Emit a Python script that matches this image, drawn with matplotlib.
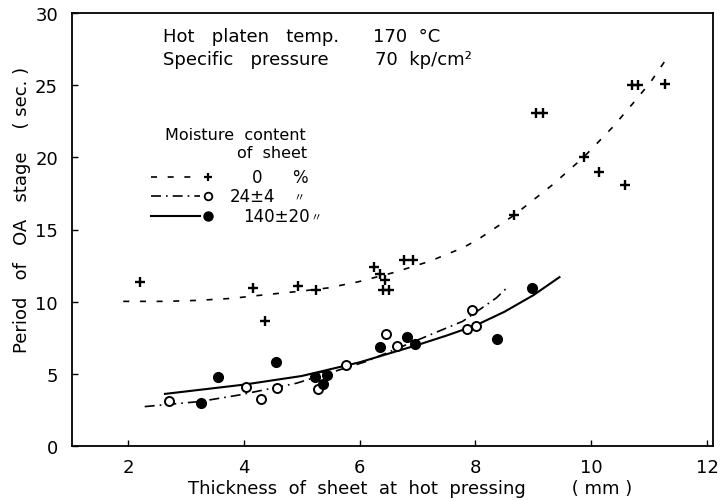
import matplotlib
matplotlib.use("Agg")
import matplotlib.pyplot as plt

plt.rcParams['font.family'] = ['DejaVu Sans', 'Noto Sans CJK JP']

# measured points, 0 % moisture
plus_x = [2.21, 4.16, 4.37, 4.94, 5.24, 6.25, 6.36, 6.43, 6.40, 6.50, 6.76, 6.93,
          8.66, 9.05, 9.16, 9.87, 10.13, 10.58, 10.71, 10.81, 11.28]
plus_y = [11.34, 10.95, 8.63, 11.11, 10.81, 12.38, 11.92, 11.48, 10.83, 10.78, 12.87, 12.87,
          15.97, 23.1, 23.1, 20.02, 19.0, 18.06, 25.02, 25.02, 25.07]

# measured points, 24 +- 4 % moisture
open_x = [2.71, 4.03, 4.29, 4.58, 5.29, 5.34, 5.76, 6.45, 6.65, 7.86, 7.94, 8.01]
open_y = [3.14, 4.12, 3.24, 4.0, 3.95, 4.86, 5.63, 7.76, 6.9, 8.1, 9.4, 8.29]

# measured points, 140 +- 20 % moisture
filled_x = [3.27, 3.55, 4.55, 5.23, 5.43, 5.36, 6.36, 6.82, 6.95, 8.37, 8.98]
filled_y = [2.96, 4.81, 5.85, 4.81, 4.93, 4.31, 6.83, 7.52, 7.1, 7.41, 10.95]

# hand-drawn trend curves
dash_x = [1.92, 2.64, 3.21, 3.80, 4.39, 4.97, 5.45, 5.97, 6.60, 7.21, 7.78, 8.04,
          8.66, 9.33, 9.87, 10.37, 10.71, 11.02, 11.36]
dash_y = [10.02, 10.02, 10.09, 10.23, 10.49, 10.72, 10.95, 11.37, 12.03, 12.8, 13.73, 14.3,
          15.97, 18.1, 20.02, 22.1, 23.7, 25.2, 27.2]

dashdot_x = [2.29, 3.24, 3.93, 4.91, 6.11, 7.43, 7.78, 8.36, 8.54]
dashdot_y = [2.73, 3.08, 3.54, 4.35, 5.85, 8.06, 8.64, 10.26, 10.95]

solid_x = [2.64, 4.0, 5.0, 6.0, 7.0, 7.5, 8.0, 8.5, 9.0, 9.45]
solid_y = [3.61, 4.25, 4.85, 5.8, 7.0, 7.65, 8.35, 9.3, 10.45, 11.7]

W, H = 722, 502

fig = plt.figure(figsize=(W / 100, H / 100), dpi=100)
ax = fig.add_axes([72 / W, 1 - 447 / H, 641 / W, 433 / H])


def fx(px):
    return px / W


def fy(py):
    return 1 - py / H


dash_ls = (0, (3.6, 6.4))
dashdot_ls = (0, (6, 3, 1, 3))

ax.plot(dash_x, dash_y, color='black', lw=1.2, ls=dash_ls)
ax.plot(dashdot_x, dashdot_y, color='black', lw=1.2, ls=dashdot_ls)
ax.plot(solid_x, solid_y, color='black', lw=1.5)

ax.plot(plus_x, plus_y, ls='none', marker='+', ms=6.5, mew=1.7, color='black')
ax.plot(open_x, open_y, ls='none', marker='o', ms=6.5, mew=1.4,
        mfc='white', mec='black')
ax.plot(filled_x, filled_y, ls='none', marker='o', ms=7, color='black')

ax.set_xlim(1.035, 12.1)
ax.set_ylim(0, 30)
ax.set_xticks([2, 4, 6, 8, 10, 12])
ax.set_yticks([0, 5, 10, 15, 20, 25, 30])
ax.tick_params(direction='in', length=4, width=1, labelsize=13)
ax.tick_params(axis='x', pad=9)
ax.tick_params(axis='y', pad=10)
for s in ax.spines.values():
    s.set_linewidth(1.3)

ax.set_xlabel('Thickness  of  sheet  at  hot  pressing        ( mm )', fontsize=13)
ax.xaxis.set_label_coords((410 - 72) / 641, (447 - 489) / 433)
ax.xaxis.label.set_va('center')
ax.set_ylabel('Period   of   OA   stage    ( sec. )', fontsize=13)
ax.yaxis.set_label_coords((22 - 72) / 641, (447 - 210) / 433)
ax.yaxis.label.set_va('center')

# pressing conditions
fig.text(fx(163), fy(37), 'Hot   platen   temp.', fontsize=13, va='center')
fig.text(fx(373), fy(37), '170  °C', fontsize=13, va='center')
fig.text(fx(163), fy(60), 'Specific   pressure', fontsize=13, va='center')
fig.text(fx(375), fy(60), '70  kp/cm²', fontsize=13, va='center')

# key
fig.text(fx(165), fy(135), 'Moisture  content', fontsize=11.5, va='center')
fig.text(fx(237), fy(154), 'of  sheet', fontsize=11.5, va='center')

key_rows = [
    (178, dash_ls, 1.2, dict(marker='+', ms=6, mew=1.6, color='black')),
    (197, dashdot_ls, 1.2, dict(marker='o', ms=5.5, mew=1.3, mfc='white', mec='black')),
    (217, '-', 1.5, dict(marker='o', ms=6.5, color='black')),
]
for py, ls, lw, mk in key_rows:
    fig.add_artist(plt.Line2D([fx(151), fx(200)], [fy(py), fy(py)],
                              color='black', lw=lw, ls=ls))
    fig.add_artist(plt.Line2D([fx(208)], [fy(py)], ls='none', **mk))

fig.text(fx(257), fy(178), '0', fontsize=12, va='center', ha='center')
fig.text(fx(300), fy(178), '%', fontsize=12, va='center', ha='center')
fig.text(fx(230), fy(197), '24±4', fontsize=12, va='center')
fig.text(fx(299), fy(198), '〃', fontsize=8, va='center', ha='center')
fig.text(fx(243), fy(217), '140±20', fontsize=12, va='center')
fig.text(fx(316), fy(218), '〃', fontsize=8, va='center', ha='center')

fig.savefig('out.png', dpi=100)
